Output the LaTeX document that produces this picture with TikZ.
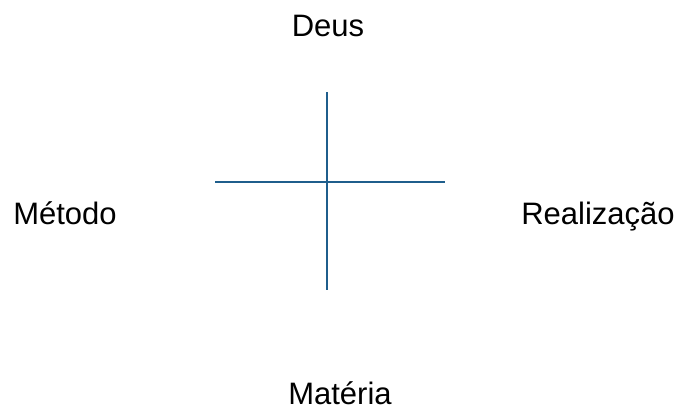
\documentclass[tikz,border=0pt]{standalone}
\usepackage{fontspec}
\setmainfont{Liberation Sans}
\usetikzlibrary{positioning}
\definecolor{crossblue}{RGB}{31,94,140}

\begin{document}
\begin{tikzpicture}[x=1pt,y=-1pt]
\useasboundingbox (0,0) rectangle (678,408);
\tikzset{lbl/.style={anchor=base,inner sep=0pt,font=\fontsize{31}{36}\selectfont}}

%\draw (0,0) rectangle (678,408);

\draw (328,36) node[lbl] (deus) {Deus};
\draw (65,224) node[lbl] (metodo) {Método};
\draw (598,224) node[lbl] (real) {Realização};
\draw (340,404.5) node[lbl] (materia) {Matéria};

\coordinate (top) at (327,92);
\coordinate (bot) at (327,290);
\coordinate (lft) at (215,182);
\coordinate (rgt) at (445,182);

\draw [color=crossblue,line width=1.2pt] (top) -- (bot);
\draw [color=crossblue,line width=1.2pt] (lft) -- (rgt);

\end{tikzpicture}
\end{document}
